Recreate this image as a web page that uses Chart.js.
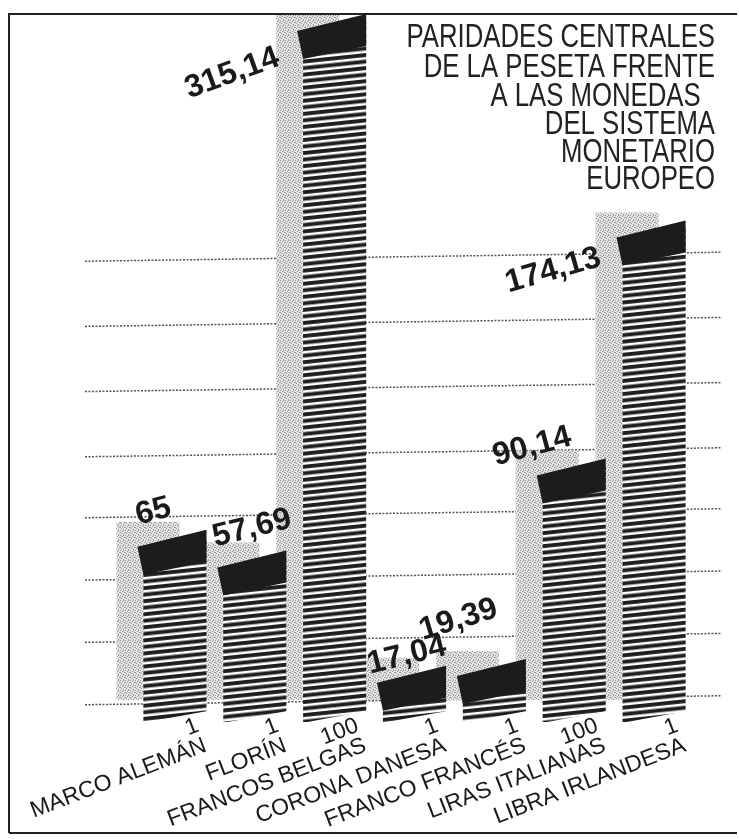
<!DOCTYPE html>
<html>
<head>
<meta charset="utf-8">
<script src="https://cdn.jsdelivr.net/npm/chart.js@4.4.0/dist/chart.umd.min.js"></script>
<style>
body { margin: 0; background: #fff; }
#wrap { width: 739px; height: 839px; }
</style>
</head>
<body>
<div id="wrap"><canvas id="myChart"></canvas></div>
<script>
var monedas = ['MARCO ALEMÁN', 'FLORÍN', 'FRANCOS BELGAS', 'CORONA DANESA', 'FRANCO FRANCÉS', 'LIRAS ITALIANAS', 'LIBRA IRLANDESA'];
var unidades = ['1', '1', '100', '1', '1', '100', '1'];
var paridades = [65, 57.69, 315.14, 17.04, 19.39, 90.14, 174.13];
var lineasGuia = [7.5, 29.5, 51.5, 73.5, 95, 118, 141, 164];
var titulo = ['PARIDADES CENTRALES', 'DE LA PESETA FRENTE', 'A LAS MONEDAS  ', 'DEL SISTEMA', 'MONETARIO', 'EUROPEO'];

var canvas = document.getElementById('myChart');
var ctx = canvas.getContext('2d');

function formato(v) {
    if (Number.isInteger(v)) return String(v);
    return v.toFixed(2).replace('.', ',');
}

// rayado horizontal de las barras
function rayado() {
    var c = document.createElement('canvas');
    c.width = 8;
    c.height = 13;
    var g = c.getContext('2d');
    g.fillStyle = '#fff';
    g.fillRect(0, 0, 8, 13);
    g.fillStyle = '#1e1e1e';
    g.fillRect(0, 0, 8, 3.9);
    g.fillRect(0, 6.5, 8, 3.9);
    var p = ctx.createPattern(c, 'repeat');
    p.setTransform(new DOMMatrix().rotate(-6));
    return p;
}

// trama gris de las sombras
function punteado() {
    var c = document.createElement('canvas');
    c.width = 5;
    c.height = 5;
    var g = c.getContext('2d');
    g.fillStyle = '#e4e4e4';
    g.fillRect(0, 0, 5, 5);
    g.fillStyle = '#9a9a9a';
    [[0, 0], [2, 1], [4, 2], [1, 3], [3, 4], [3, 0], [0, 2]].forEach(function (d) {
        g.fillRect(d[0], d[1], 1, 1);
    });
    return ctx.createPattern(c, 'repeat');
}

var trama = punteado();

// donde va cada cifra respecto a la barra
var cifras = [
    { dx: -5, dy: -13, align: 'left', rot: -15 },
    { dx: -8, dy: -12, align: 'left', rot: -14 },
    { dx: -22, dy: 43, align: 'right', rot: -20 },
    { dx: -13, dy: 0, align: 'left', rot: -14 },
    { dx: -40, dy: -27, align: 'left', rot: -17 },
    { dx: -47, dy: -1, align: 'left', rot: -15 },
    { dx: -20, dy: 37, align: 'right', rot: -16 }
];

var adornos = {
    id: 'adornos',
    beforeDatasetsDraw: function (chart) {
        var c = chart.ctx;
        var area = chart.chartArea;
        var sy = chart.scales.y;
        c.save();
        c.strokeStyle = '#222';
        c.lineWidth = 2;
        c.beginPath();
        c.moveTo(9, 833);
        c.lineTo(9, 14);
        c.lineTo(737, 14);
        c.moveTo(9, 833);
        c.lineTo(737, 833);
        c.stroke();

        c.setLineDash([2, 1.5]);
        c.lineWidth = 1.5;
        c.strokeStyle = '#555';
        sy.ticks.forEach(function (t) {
            var py = sy.getPixelForValue(t.value);
            c.beginPath();
            c.moveTo(area.left - 50, py + 4);
            c.lineTo(area.right + 28, py - 5);
            c.stroke();
        });
        c.setLineDash([]);

        c.beginPath();
        c.rect(0, 15, chart.width, chart.height - 15);
        c.clip();
        chart.getDatasetMeta(0).data.forEach(function (bar) {
            var top = Math.max(bar.y, area.top);
            var left = bar.x - bar.width / 2;
            c.fillStyle = trama;
            c.fillRect(left - 27, top - 16, bar.width, bar.base - top - 6);
        });
        c.restore();
    },
    afterDatasetsDraw: function (chart) {
        var c = chart.ctx;
        var area = chart.chartArea;
        c.save();
        chart.getDatasetMeta(0).data.forEach(function (bar, i) {
            var top = Math.max(bar.y, area.top);
            var l = bar.x - bar.width / 2;
            var r = bar.x + bar.width / 2;
            var b = bar.base;

            c.fillStyle = trama;
            c.beginPath();
            c.moveTo(l - 1, top - 1);
            c.lineTo(l - 1, top + 9);
            c.lineTo(bar.x + 2, top - 1);
            c.fill();

            c.fillStyle = '#fff';
            c.beginPath();
            c.moveTo(l - 1, b + 1);
            c.lineTo(r + 1, b - 11);
            c.lineTo(r + 1, b + 1);
            c.fill();

            c.fillStyle = '#1c1c1c';
            c.beginPath();
            c.moveTo(l - 6, top + 9);
            c.lineTo(r, top - 8);
            c.lineTo(r, top + 24);
            c.lineTo(l, top + 37);
            c.closePath();
            c.fill();

            var k = cifras[i];
            c.save();
            c.translate(l + k.dx, top + k.dy);
            c.rotate(k.rot * Math.PI / 180);
            c.font = 'bold 32px "Liberation Sans", Arial, sans-serif';
            c.textAlign = k.align;
            c.textBaseline = 'alphabetic';
            c.fillStyle = '#1a1a1a';
            c.fillText(formato(paridades[i]), 0, 0);
            c.restore();
        });

        c.font = '33px "Liberation Sans", Arial, sans-serif';
        c.fillStyle = '#222';
        c.textAlign = 'right';
        var bases = [47, 77, 106, 134, 162, 189];
        titulo.forEach(function (linea, j) {
            c.save();
            c.translate(715, bases[j]);
            c.scale(0.78, 1);
            c.fillText(linea, 0, 0);
            c.restore();
        });
        c.restore();
    }
};

var chart = new Chart(ctx, {
    type: 'bar',
    data: {
        labels: monedas.map(function (m, i) { return [unidades[i], m]; }),
        datasets: [{
            data: paridades,
            base: 0,
            backgroundColor: rayado(),
            borderWidth: 0,
            barPercentage: 0.79,
            categoryPercentage: 1,
            clip: { left: 0, top: 0, right: 0, bottom: 20 }
        }]
    },
    options: {
        responsive: true,
        maintainAspectRatio: false,
        animation: false,
        events: [],
        layout: { padding: { left: 135, right: 45, top: 22, bottom: 0 } },
        plugins: { legend: { display: false }, tooltip: { enabled: false } },
        scales: {
            x: {
                grid: { display: false, drawTicks: false },
                border: { display: false },
                ticks: {
                    z: 1,
                    autoSkip: false,
                    minRotation: 21,
                    maxRotation: 21,
                    labelOffset: 23,
                    padding: 10,
                    color: '#1a1a1a',
                    font: { family: '"Liberation Sans", Arial, sans-serif', size: 23, lineHeight: 0.93 }
                },
                afterFit: function (s) {
                    s.height = 134;
                    s.paddingLeft = 0;
                    s.paddingRight = 0;
                }
            },
            y: {
                min: 6,
                max: 247,
                grid: { display: false },
                border: { display: false },
                ticks: { display: false },
                afterBuildTicks: function (s) {
                    s.ticks = lineasGuia.map(function (v) { return { value: v }; });
                },
                afterFit: function (s) { s.width = 0; }
            }
        }
    },
    plugins: [adornos]
});
</script>
</body>
</html>
